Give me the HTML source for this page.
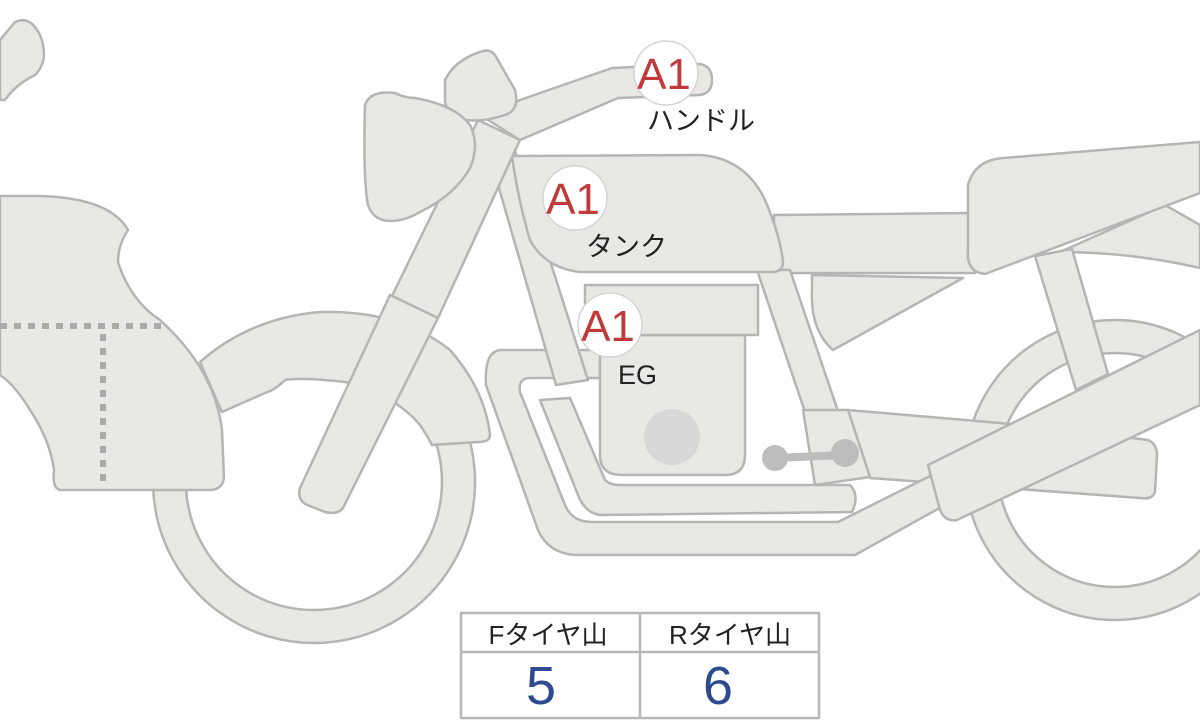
<!DOCTYPE html>
<html><head><meta charset="utf-8"><style>
html,body{margin:0;padding:0;background:#fff;width:1200px;height:720px;overflow:hidden}
svg{display:block}
text{font-family:"Liberation Sans","Noto Sans CJK JP",sans-serif}
</style></head><body>
<svg width="1200" height="720" viewBox="0 0 1200 720" xmlns="http://www.w3.org/2000/svg">
<g fill="#e8e8e5" stroke="#b5b5b5" stroke-width="2.5" stroke-linejoin="round">
<!-- rear fender/frame behind -->
<path d="M1060,252 L1165,205 L1200,225 L1200,268 Q1130,252 1060,252 Z"/>
<!-- rear wheel -->
<path fill-rule="evenodd" d="M1115,320 a150,150 0 1,0 0.1,0 Z M1115,353 a117,117 0 1,1 -0.1,0 Z"/>
<!-- front wheel -->
<path fill-rule="evenodd" d="M314,321 a161,161 0 1,0 0.1,0 Z M314,354 a128,128 0 1,1 -0.1,0 Z"/>
<!-- top-left mirror -->
<path d="M0,40 L15,22 Q30,15 40,35 Q50,60 35,75 Q15,85 5,100 L0,100 Z"/>
<!-- left fairing -->
<path d="M0,196 L40,196 Q110,198 128,230 Q118,245 118,262 Q130,300 160,320 Q215,370 222,430 L224,478 Q222,490 210,490 L60,490 Q52,488 54,470 Q50,440 30,410 Q15,385 0,375 Z"/>
<!-- front fender -->
<path d="M200,362 Q250,318 320,312 Q400,310 450,350 Q485,390 490,435 Q490,442 478,442 L432,445 Q425,432 420,425 Q395,395 345,382 Q300,377 285,380 Q275,390 265,393 L222,412 Z"/>
<!-- rear shock -->
<path d="M1035,256 L1072,249 L1108,374 L1076,390 Z"/>
<!-- swingarm -->
<path d="M848,410 L1000,423 L1148,440 Q1157,444 1157,455 L1155,492 Q1152,500 1140,498 L870,478 Z"/>
<!-- lower exhaust pipes -->
<path d="M500,350 L600,350 L600,378 L530,378 Q518,378 520,392 L565,505 Q572,522 592,522 L838,522 L930,476 L945,505 L855,555 L575,555 Q548,553 538,530 L486,385 Q484,352 500,350 Z"/>
<path d="M540,400 L570,398 L605,480 Q610,485 620,485 L850,485 Q860,495 852,512 L600,515 Q585,513 578,495 Z"/>
<!-- seat and tail -->
<path d="M774,215 L972,213 L975,273 L785,273 Q772,265 774,240 Z"/>
<path d="M968,185 Q975,160 1003,158 L1200,142 L1200,193 L985,274 Q966,272 968,250 Z"/>
<!-- side cover -->
<path d="M812,275 L963,278 L833,350 Q810,330 812,290 Z"/>
<!-- frame rear downtube -->
<path d="M757,270 L790,270 L858,470 L828,480 Z"/>
<!-- frame front downtube -->
<path d="M485,140 L510,135 L588,380 L556,385 Z"/>
<!-- engine -->
<path d="M600,335 L745,335 L745,455 Q745,475 725,475 L622,475 Q600,475 600,455 Z"/>
<path d="M585,285 L758,285 L758,335 L585,335 Z"/>
<!-- footrest bracket -->
<path d="M803,410 L848,410 L870,477 L815,485 Z"/>
<!-- muffler -->
<path d="M928,465 L1200,330 L1200,405 L957,520 Q945,522 940,510 Z"/>
<!-- tank -->
<path d="M512,156 L700,155 Q745,158 765,200 Q780,235 783,262 Q783,272 772,272 L580,272 Q545,268 530,240 Q518,200 512,156 Z"/>
<!-- fork upper -->
<path d="M478,120 L520,140 L438,318 L392,296 Z"/>
<!-- fork lower -->
<path d="M390,295 L438,318 L343,508 Q338,515 325,512 L305,504 Q297,498 300,488 Z"/>
<!-- handlebar -->
<path d="M485,118 Q500,108 520,100 L612,68 L700,64 Q712,66 712,80 Q712,93 700,95 L618,98 L520,140 Z"/>
<!-- headlight top -->
<path d="M445,80 Q455,60 480,52 Q490,48 495,55 L515,90 Q520,110 505,115 Q485,122 465,120 Q445,115 445,100 Z"/>
<!-- headlight -->
<path d="M365,105 Q370,90 395,93 Q405,98 415,98 Q455,105 470,125 Q480,145 470,168 Q455,195 420,212 Q410,218 400,220 Q375,225 368,205 Q363,180 365,105 Z"/>
</g>
<circle cx="672" cy="437" r="28" fill="#d8d8d8"/>
<g stroke="#bdbdbd" stroke-width="8"><line x1="775" y1="458" x2="845" y2="455"/></g>
<circle cx="775" cy="458" r="13" fill="#bdbdbd"/><circle cx="845" cy="453" r="14" fill="#bdbdbd"/>
<!-- dotted lines -->
<g stroke="#aaaaaa" stroke-width="6" stroke-dasharray="7,7"><line x1="0" y1="326" x2="162" y2="326"/><line x1="103" y1="334" x2="103" y2="485"/></g>
<!-- badges -->
<g fill="#fff" stroke="#d4d4d4" stroke-width="1.5">
<circle cx="666" cy="73" r="32"/><circle cx="575" cy="198" r="32"/><circle cx="610" cy="325" r="32"/>
</g>
<g fill="#c0393b" font-size="44" text-anchor="middle">
<text x="664" y="89">A1</text><text x="573" y="214">A1</text><text x="608" y="341">A1</text>
</g>
<g fill="#222" font-size="27">
<text x="647" y="130">ハンドル</text><text x="586" y="256">タンク</text><text x="618" y="384">EG</text>
</g>
<!-- table -->
<g fill="#fff" stroke="#b8b8b8" stroke-width="2.5">
<rect x="461" y="613" width="358" height="105"/>
<line x1="461" y1="652" x2="819" y2="652"/><line x1="640" y1="613" x2="640" y2="718"/>
</g>
<g font-size="26" fill="#222" text-anchor="middle"><text x="548" y="644">Fタイヤ山</text><text x="730" y="644">Rタイヤ山</text></g>
<g font-size="54" fill="#2d4b8e" text-anchor="middle"><text x="541" y="704">5</text><text x="718" y="704">6</text></g>
</svg>
</body></html>
